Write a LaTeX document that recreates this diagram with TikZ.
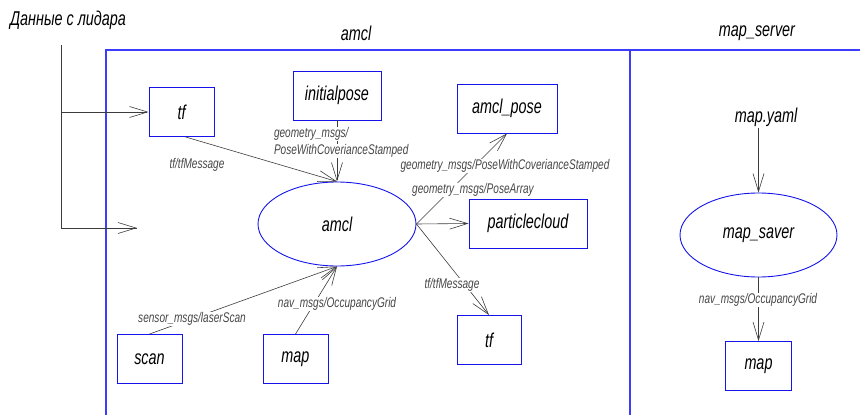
\documentclass[tikz,border=0pt]{standalone}
\usepackage{fontspec}
\newfontfamily\gost{Liberation Sans}[FakeStretch=0.72]
\usetikzlibrary{arrows.meta,shapes.geometric}
\definecolor{boxblue}{RGB}{20,20,235}
\definecolor{frameblue}{RGB}{60,60,255}
\definecolor{wire}{RGB}{60,60,60}
\definecolor{labelgray}{RGB}{70,70,70}
\begin{document}
\begin{tikzpicture}[x=1pt,y=-1pt,
  txt/.style={font=\gost\itshape\fontsize{20}{22}\selectfont,inner sep=1pt},
  box/.style={draw=boxblue,line width=0.9pt,inner sep=0pt,minimum height=49pt,
    font=\gost\itshape\fontsize{20}{22}\selectfont},
  oval/.style={ellipse,draw=boxblue,line width=0.9pt,inner sep=0pt,
    minimum width=158pt,minimum height=84pt,font=\gost\itshape\fontsize{20}{22}\selectfont},
  msg/.style={font=\gost\itshape\fontsize{14}{16}\selectfont,text=labelgray,
    fill=white,inner sep=0.8pt},
  flow/.style={draw=wire,line width=0.6pt,-{Straight Barb[length=18pt,width=11pt,line width=0.6pt]}},
  plain/.style={draw=wire,line width=0.6pt},
  frame/.style={draw=frameblue,line width=1.2pt}]
\useasboundingbox (0,0) rectangle (860,415);

% partition frames
\draw[frame] (106,415) -- (106,50) -- (860,50);
\draw[frame] (630,50) -- (630,415);

% titles
\node[txt] (lidar) at (68,20) {Данные с лидара};
\node[txt] (amcltitle) at (356,33) {amcl};
\node[txt] (mstitle) at (757,33) {map\_server};

% amcl nodes
\node[box,minimum width=65pt] (tfin) at (181.5,112) {tf};
\node[box,minimum width=88pt] (initpose) at (337,95.5) {initialpose};
\node[box,minimum width=100pt] (amclpose) at (507,108.5) {amcl\_pose};
\node[box,minimum width=118pt] (pcloud) at (528,223.5) {particlecloud};
\node[box,minimum width=65pt] (scan) at (149.5,359) {scan};
\node[box,minimum width=65pt] (map) at (295.5,359) {map};
\node[box,minimum width=64pt] (tfout) at (489,340) {tf};
\node[oval] (amcl) at (337,224) {amcl};

% map_server nodes
\node[txt] (yaml) at (766,117) {map.yaml};
\node[oval,minimum width=157pt] (saver) at (758.5,235) {map\_saver};
\node[box,minimum width=66pt] (mapout) at (758.5,366) {map};

% lidar input lines
\coordinate (lidtop) at (61,45);
\coordinate (lidbranch) at (61,112);
\coordinate (lidend) at (137,228);
\draw[plain] (lidtop) |- (lidend);
\draw[flow] (lidbranch) -- (tfin.west);
\draw[flow] (lidend |- 0,228) ++(-1,0) -- (lidend);

% amcl connectors
\draw[flow] (tfin.south) ++(4,0) -- (amcl.north);
\draw[flow] (initpose.south) -- (amcl.north);
\draw[flow] (amcl.east) -- (amclpose.south);
\draw[flow] (amcl.east) -- (pcloud.west);
\draw[flow] (amcl.east) -- (tfout.north);
\draw[flow] (scan.north) -- (amcl.south);
\draw[flow] (map.north) -- (amcl.south);

% map_server connectors
\draw[flow] (saver.north |- yaml.south) -- (saver.north);
\draw[flow] (saver.south) -- (mapout.north);

% message types
\node[msg,fill=none] (m1) at (197,165) {tf/tfMessage};
\node[msg,anchor=west] (m2a) at (273,134) {geometry\_msgs/};
\node[msg,anchor=west] (m2b) at (273,151) {PoseWithCoverianceStamped};
\node[msg] (m3) at (505,166) {geometry\_msgs/PoseWithCoverianceStamped};
\node[msg] (m4) at (473,190) {geometry\_msgs/PoseArray};
\node[msg] (m5) at (452,285) {tf/tfMessage};
\node[msg] (m6) at (192,319) {sensor\_msgs/laserScan};
\node[msg] (m7) at (337,304) {nav\_msgs/OccupancyGrid};
\node[msg] (m8) at (758,300) {nav\_msgs/OccupancyGrid};
\end{tikzpicture}
\end{document}
